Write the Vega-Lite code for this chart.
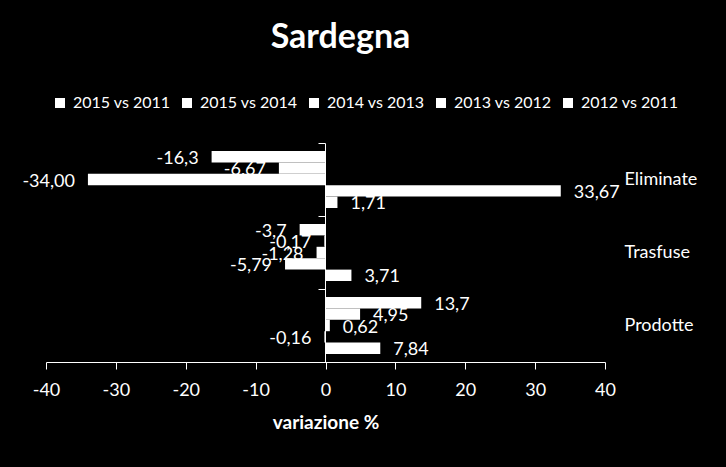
{
  "$schema": "https://vega.github.io/schema/vega-lite/v6.json",
  "width": 559,
  "height": 219,
  "autosize": {"type": "none"},
  "padding": {"left": 46, "top": 143, "right": 121, "bottom": 105},
  "background": "black",
  "config": {"font": "Lato", "view": {"stroke": null}},
  "title": {"text": "Sardegna", "fontSize": 34, "fontWeight": "bold", "color": "white", "anchor": "middle", "dx": 15, "offset": 40},
  "data": {"values": [
    {"cat": "Eliminate", "s": "2015 vs 2011", "v": -16.3, "label": "-16,3"},
    {"cat": "Eliminate", "s": "2015 vs 2014", "v": -6.67, "label": "-6,67"},
    {"cat": "Eliminate", "s": "2014 vs 2013", "v": -34.00, "label": "-34,00"},
    {"cat": "Eliminate", "s": "2013 vs 2012", "v": 33.67, "label": "33,67"},
    {"cat": "Eliminate", "s": "2012 vs 2011", "v": 1.71, "label": "1,71"},
    {"cat": "Trasfuse", "s": "2015 vs 2011", "v": -3.7, "label": "-3,7"},
    {"cat": "Trasfuse", "s": "2015 vs 2014", "v": -0.17, "label": "-0,17"},
    {"cat": "Trasfuse", "s": "2014 vs 2013", "v": -1.28, "label": "-1,28"},
    {"cat": "Trasfuse", "s": "2013 vs 2012", "v": -5.79, "label": "-5,79"},
    {"cat": "Trasfuse", "s": "2012 vs 2011", "v": 3.71, "label": "3,71"},
    {"cat": "Prodotte", "s": "2015 vs 2011", "v": 13.7, "label": "13,7"},
    {"cat": "Prodotte", "s": "2015 vs 2014", "v": 4.95, "label": "4,95"},
    {"cat": "Prodotte", "s": "2014 vs 2013", "v": 0.62, "label": "0,62"},
    {"cat": "Prodotte", "s": "2013 vs 2012", "v": -0.16, "label": "-0,16"},
    {"cat": "Prodotte", "s": "2012 vs 2011", "v": 7.84, "label": "7,84"}
  ]},
  "layer": [
    {
      "mark": {"type": "bar", "fill": "white"},
      "encoding": {
        "x": {"field": "v", "type": "quantitative", "scale": {"domain": [-40, 40], "nice": false},
          "axis": {"values": [-40, -30, -20, -10, 0, 10, 20, 30, 40], "labelExpr": "'' + datum.value", "grid": false, "domainColor": "white", "tickColor": "white", "tickSize": 7, "labelColor": "white", "labelFontSize": 18, "labelPadding": 12, "labelFlush": false, "title": "variazione %", "titleColor": "white", "titleFontSize": 19, "titleFontWeight": "bold", "titlePadding": 14}},
        "y": {"field": "cat", "type": "nominal", "sort": ["Eliminate", "Trasfuse", "Prodotte"], "scale": {"paddingInner": 0, "paddingOuter": 0},
          "axis": {"orient": "left", "offset": -279, "labels": false, "title": null, "domainColor": "white", "tickColor": "white", "tickSize": 7, "tickBand": "extent", "grid": false}},
        "yOffset": {"field": "s", "type": "nominal", "sort": ["2015 vs 2011", "2015 vs 2014", "2014 vs 2013", "2013 vs 2012", "2012 vs 2011"], "scale": {"paddingInner": 0, "paddingOuter": 0.7}},
        "color": {"field": "s", "type": "nominal", "sort": ["2015 vs 2011", "2015 vs 2014", "2014 vs 2013", "2013 vs 2012", "2012 vs 2011"],
          "scale": {"range": ["white", "white", "white", "white", "white"]},
          "legend": {"orient": "none", "legendX": 6, "legendY": -48, "direction": "horizontal", "title": null, "symbolType": "square", "symbolSize": 100, "symbolStrokeWidth": 0, "labelColor": "white", "labelFontSize": 16, "labelOffset": 5, "columnPadding": 8}}
      }
    },
    {
      "transform": [{"filter": "datum.v < 0"}],
      "mark": {"type": "text", "align": "right", "dx": -13, "dy": 2, "fontSize": 18, "color": "white"},
      "encoding": {
        "x": {"field": "v", "type": "quantitative", "scale": {"domain": [-40, 40], "nice": false}},
        "y": {"field": "cat", "type": "nominal", "sort": ["Eliminate", "Trasfuse", "Prodotte"],
          "axis": {"orient": "right", "domain": false, "ticks": false, "labelColor": "white", "labelFontSize": 18, "labelPadding": 19, "title": null, "grid": false}},
        "yOffset": {"field": "s", "type": "nominal", "sort": ["2015 vs 2011", "2015 vs 2014", "2014 vs 2013", "2013 vs 2012", "2012 vs 2011"]},
        "text": {"field": "label"}
      }
    },
    {
      "transform": [{"filter": "datum.v >= 0"}],
      "mark": {"type": "text", "align": "left", "dx": 13, "dy": 2, "fontSize": 18, "color": "white"},
      "encoding": {
        "x": {"field": "v", "type": "quantitative", "scale": {"domain": [-40, 40], "nice": false}},
        "y": {"field": "cat", "type": "nominal", "sort": ["Eliminate", "Trasfuse", "Prodotte"], "axis": null},
        "yOffset": {"field": "s", "type": "nominal", "sort": ["2015 vs 2011", "2015 vs 2014", "2014 vs 2013", "2013 vs 2012", "2012 vs 2011"]},
        "text": {"field": "label"}
      }
    }
  ],
  "resolve": {"axis": {"y": "independent"}}
}
